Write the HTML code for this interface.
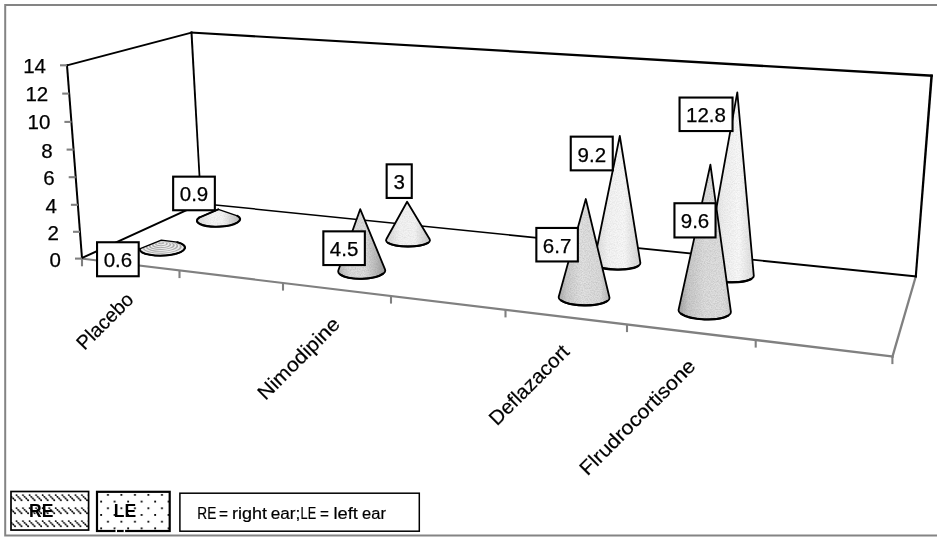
<!DOCTYPE html>
<html lang="en"><head><meta charset="utf-8"><title>RE / LE chart</title>
<style>
html,body{margin:0;padding:0;background:#fff;}
body{width:937px;height:537px;overflow:hidden;}
svg{display:block;filter:grayscale(1);}
text{font-family:"Liberation Sans",sans-serif;fill:#000;}
.v{font-size:20.5px;stroke:#000;stroke-width:0.25px;}
.c{font-size:20px;stroke:#000;stroke-width:0.2px;}
.b{font-size:17.5px;font-weight:bold;}
.n{font-size:16px;stroke:#000;stroke-width:0.2px;}
.box{fill:#fff;stroke:#000;stroke-width:2.1;}
.bk{fill:none;stroke:#000;stroke-width:2;stroke-linejoin:miter;}
.gr{fill:none;stroke:#808080;stroke-width:2.1;}
</style></head><body>
<svg width="937" height="537" viewBox="0 0 937 537">
<defs>
<linearGradient id="g_re96" x1="0" y1="0" x2="1" y2="0"><stop offset="0" stop-color="#a2a2a2"/><stop offset="0.18" stop-color="#c9c9c9"/><stop offset="0.5" stop-color="#dedede"/><stop offset="0.85" stop-color="#e0e0e0"/><stop offset="1" stop-color="#cfcfcf"/></linearGradient>
<linearGradient id="g_re67" x1="0" y1="0" x2="1" y2="0"><stop offset="0" stop-color="#adadad"/><stop offset="0.16" stop-color="#cdcdcd"/><stop offset="0.45" stop-color="#e2e2e2"/><stop offset="0.82" stop-color="#dcdcdc"/><stop offset="1" stop-color="#b8b8b8"/></linearGradient>
<linearGradient id="g_re45" x1="0" y1="0" x2="1" y2="0"><stop offset="0" stop-color="#b8b8b8"/><stop offset="0.25" stop-color="#dcdcdc"/><stop offset="0.55" stop-color="#dedede"/><stop offset="0.8" stop-color="#bcbcbc"/><stop offset="1" stop-color="#9a9a9a"/></linearGradient>
<linearGradient id="g_re06" x1="0" y1="0" x2="1" y2="0"><stop offset="0" stop-color="#c4c4c4"/><stop offset="1" stop-color="#d4d4d4"/></linearGradient>
<linearGradient id="g_le09" x1="0" y1="0" x2="1" y2="0"><stop offset="0" stop-color="#dcdcdc"/><stop offset="0.35" stop-color="#f6f6f6"/><stop offset="0.6" stop-color="#f4f4f4"/><stop offset="1" stop-color="#b8b8b8"/></linearGradient>
<linearGradient id="g_le3" x1="0" y1="0" x2="1" y2="0"><stop offset="0" stop-color="#d6d6d6"/><stop offset="0.3" stop-color="#f2f2f2"/><stop offset="0.65" stop-color="#f4f4f4"/><stop offset="1" stop-color="#c6c6c6"/></linearGradient>
<linearGradient id="g_le92" x1="0" y1="0" x2="1" y2="0"><stop offset="0" stop-color="#d8d8d8"/><stop offset="0.3" stop-color="#f3f3f3"/><stop offset="0.65" stop-color="#f8f8f8"/><stop offset="1" stop-color="#d4d4d4"/></linearGradient>
<linearGradient id="g_le128" x1="0" y1="0" x2="1" y2="0"><stop offset="0" stop-color="#cfcfcf"/><stop offset="0.4" stop-color="#f0f0f0"/><stop offset="0.7" stop-color="#f9f9f9"/><stop offset="1" stop-color="#dcdcdc"/></linearGradient>
<filter id="grain" x="0" y="0" width="1" height="1" color-interpolation-filters="sRGB">
<feTurbulence type="fractalNoise" baseFrequency="0.85" numOctaves="2" seed="7" result="n"/>
<feColorMatrix in="n" type="matrix" values="0 0 0 0 0.45  0 0 0 0 0.45  0 0 0 0 0.45  1.6 0 0 0 -0.55" result="g"/>
<feComposite in="g" in2="SourceGraphic" operator="in"/>
</filter>
<pattern id="hatch" x="13" y="494" width="6.55" height="13" patternUnits="userSpaceOnUse"><g fill="#000"><circle cx="3.45" cy="1.10" r="0.95"/><circle cx="5.15" cy="2.83" r="0.95"/><circle cx="6.85" cy="4.56" r="0.95"/><circle cx="8.55" cy="6.29" r="0.95"/><circle cx="-3.10" cy="1.10" r="0.95"/><circle cx="-1.40" cy="2.83" r="0.95"/><circle cx="0.30" cy="4.56" r="0.95"/><circle cx="2.00" cy="6.29" r="0.95"/></g><path d="M3.45,1.1 L8.55,6.29 M-3.1,1.1 L2,6.29" stroke="#000" stroke-width="0.7" opacity="0.75"/></pattern>
<pattern id="dots" x="-0.25" y="4.85" width="13.5" height="13.4" patternUnits="userSpaceOnUse">
<rect x="6" y="0" width="1.8" height="1.8" fill="#000"/><rect x="-0.7" y="6.7" width="1.8" height="1.8" fill="#000"/><rect x="12.8" y="6.7" width="1.8" height="1.8" fill="#000"/>
</pattern>
</defs>
<rect width="937" height="537" fill="#fff"/>
<!-- outer frame -->
<path d="M938,5 L5.2,5 L5.2,535.6 L938,535.6" fill="none" stroke="#848484" stroke-width="2"/>
<!-- walls -->
<polygon fill="#808080" points="80.83,259.62 893.50,357.78 893.78,355.50 81.08,257.53"/>
<polygon fill="#808080" points="893.28,357.93 917.16,275.65 915.05,275.04 891.07,357.28"/>
<polygon fill="#000" points="66.29,66.62 192.72,33.31 192.21,31.38 65.78,64.69"/>
<polygon fill="#000" points="65.93,64.48 81.08,259.07 83.07,258.92 67.92,64.33"/>
<polygon fill="#000" points="81.51,259.33 202.33,203.99 201.49,202.17 80.67,257.51"/>
<polygon fill="#000" points="190.45,31.66 200.20,204.40 201.90,204.30 192.44,31.55"/>
<polygon fill="#000" points="190.44,33.54 932.78,77.12 932.92,74.62 190.56,31.54"/>
<polygon fill="#000" points="930.45,74.46 914.67,277.36 916.76,277.53 932.94,74.65"/>
<polygon fill="#000" points="200.21,204.15 916.69,277.50 916.90,275.51 200.35,202.71"/>

<path class="gr" d="M60,65.3 L67,65.3"/>
<text class="v" x="46" y="72.5" text-anchor="end">14</text>
<path class="gr" d="M62.2,93.6 L69.2,93.6"/>
<text class="v" x="48.2" y="101" text-anchor="end">12</text>
<path class="gr" d="M64.4,121.9 L71.4,121.9"/>
<text class="v" x="50.4" y="129.4" text-anchor="end">10</text>
<path class="gr" d="M66.6,149.6 L73.6,149.6"/>
<text class="v" x="52.6" y="157.7" text-anchor="end">8</text>
<path class="gr" d="M68.7,177.2 L75.7,177.2"/>
<text class="v" x="54.7" y="185.3" text-anchor="end">6</text>
<path class="gr" d="M70.9,204.8 L77.9,204.8"/>
<text class="v" x="56.9" y="212.8" text-anchor="end">4</text>
<path class="gr" d="M73,231.8 L80,231.8"/>
<text class="v" x="59" y="239.8" text-anchor="end">2</text>
<path class="gr" d="M75,258.6 L82,258.6"/>
<text class="v" x="61" y="266.5" text-anchor="end">0</text>
<path class="gr" d="M82,258.7 L82,266.3"/>
<path class="gr" d="M179.5,270.5 L179.5,278.1"/>
<path class="gr" d="M283,283 L283,290.6"/>
<path class="gr" d="M391,296 L391,303.6"/>
<path class="gr" d="M505.5,309.8 L505.5,317.4"/>
<path class="gr" d="M627,324.5 L627,332.1"/>
<path class="gr" d="M755.7,340 L755.7,347.6"/>
<path class="gr" d="M892.4,356.5 L892.4,364.1"/>
<path d="M218.3,209.3 L237.4,215.9 A21.6,6.8 -2.3 1 1 199.1,217.6 Z" fill="url(#g_le09)" stroke="none"/>
<path d="M218.3,209.3 L237.4,215.9 A21.6,6.8 -2.3 1 1 199.1,217.6 Z" fill="#fff" filter="url(#grain)" opacity="0.17"/>
<path d="M218.3,209.3 L237.4,215.9 A21.6,6.8 -2.3 1 1 199.1,217.6 Z" fill="none" stroke="#000" stroke-width="1.3" stroke-linejoin="round"/>
<path d="M237.4,215.9 A21.6,6.8 -2.3 1 1 199.1,217.6" fill="none" stroke="#000" stroke-width="2.1" stroke-linecap="round"/>
<path d="M218.3,209.3 L199.1,217.6" fill="none" stroke="#000" stroke-width="1.8" stroke-linecap="round"/>
<rect class="box" x="173.15" y="176.65" width="41.70" height="33.60"/>
<text class="v" x="194" y="201.4" text-anchor="middle">0.9</text>
<path d="M161.3,240.1 L177.3,242.2 A22.7,7.4 -2 1 1 139.6,248.9 Z" fill="url(#g_re06)" stroke="none"/>
<clipPath id="c06"><path d="M161.3,240.1 L177.3,242.2 A22.7,7.4 -2 1 1 139.6,248.9 Z"/></clipPath><g clip-path="url(#c06)">
<ellipse cx="162.2" cy="247.8" rx="21.1" ry="6.9" transform="rotate(-2 162.3 248.2)" fill="#ececec"/>
<ellipse cx="162.2" cy="247.4" rx="19.5" ry="6.3" transform="rotate(-2 162.3 248.2)" fill="#ababab"/>
<ellipse cx="162.1" cy="247" rx="17.8" ry="5.8" transform="rotate(-2 162.3 248.2)" fill="#ececec"/>
<ellipse cx="162" cy="246.5" rx="16.2" ry="5.3" transform="rotate(-2 162.3 248.2)" fill="#ababab"/>
<ellipse cx="161.9" cy="246.1" rx="14.6" ry="4.8" transform="rotate(-2 162.3 248.2)" fill="#ececec"/>
<ellipse cx="161.9" cy="245.7" rx="13" ry="4.2" transform="rotate(-2 162.3 248.2)" fill="#ababab"/>
<ellipse cx="161.8" cy="245.3" rx="11.3" ry="3.7" transform="rotate(-2 162.3 248.2)" fill="#ececec"/>
<ellipse cx="161.7" cy="244.9" rx="9.7" ry="3.2" transform="rotate(-2 162.3 248.2)" fill="#ababab"/>
<ellipse cx="161.7" cy="244.5" rx="8.1" ry="2.6" transform="rotate(-2 162.3 248.2)" fill="#ececec"/>
<ellipse cx="161.6" cy="244" rx="6.5" ry="2.1" transform="rotate(-2 162.3 248.2)" fill="#ababab"/>
<ellipse cx="161.5" cy="243.6" rx="4.9" ry="1.6" transform="rotate(-2 162.3 248.2)" fill="#ececec"/>
<ellipse cx="161.4" cy="243.2" rx="3.2" ry="1.1" transform="rotate(-2 162.3 248.2)" fill="#ababab"/>
<ellipse cx="161.4" cy="242.8" rx="1.6" ry="0.5" transform="rotate(-2 162.3 248.2)" fill="#ececec"/>
</g>
<path d="M161.3,240.1 L177.3,242.2 A22.7,7.4 -2 1 1 139.6,248.9 Z" fill="none" stroke="#000" stroke-width="1.3" stroke-linejoin="round"/>
<path d="M177.3,242.2 A22.7,7.4 -2 1 1 139.6,248.9" fill="none" stroke="#000" stroke-width="2.1" stroke-linecap="round"/>
<rect class="box" x="97.05" y="242.25" width="41.65" height="34.00"/>
<text class="v" x="117.9" y="267.2" text-anchor="middle">0.6</text>
<path d="M407.1,201.7 L429.7,239.3 A22,6.2 0 1 1 386.3,239.3 Z" fill="url(#g_le3)" stroke="none"/>
<path d="M407.1,201.7 L429.7,239.3 A22,6.2 0 1 1 386.3,239.3 Z" fill="#fff" filter="url(#grain)" opacity="0.17"/>
<path d="M407.1,201.7 L429.7,239.3 A22,6.2 0 1 1 386.3,239.3 Z" fill="none" stroke="#000" stroke-width="1.8" stroke-linejoin="round"/>
<path d="M427.9,242.9 A22,6.2 0 0 1 388.1,242.9" fill="none" stroke="#000" stroke-width="2.1" stroke-linecap="round"/>
<rect class="box" x="386.65" y="164.35" width="25.10" height="33.60"/>
<text class="v" x="399.2" y="189.2" text-anchor="middle">3</text>
<path d="M360.2,209.2 L385,269.3 A23.5,8 -1.2 1 1 338.4,270.3 Z" fill="url(#g_re45)" stroke="none"/>
<path d="M360.2,209.2 L385,269.3 A23.5,8 -1.2 1 1 338.4,270.3 Z" fill="#fff" filter="url(#grain)" opacity="0.3"/>
<path d="M360.2,209.2 L385,269.3 A23.5,8 -1.2 1 1 338.4,270.3 Z" fill="none" stroke="#000" stroke-width="1.8" stroke-linejoin="round"/>
<path d="M383.1,273.7 A23.5,8 -1.2 0 1 340.5,274.6" fill="none" stroke="#000" stroke-width="2.1" stroke-linecap="round"/>
<rect class="box" x="323.35" y="231.35" width="41.50" height="33.70"/>
<text class="v" x="344.1" y="256.2" text-anchor="middle">4.5</text>
<path d="M619.8,136 L640.4,263 A23.2,6.8 1 1 1 594,262.2 Z" fill="url(#g_le92)" stroke="none"/>
<path d="M619.8,136 L640.4,263 A23.2,6.8 1 1 1 594,262.2 Z" fill="#fff" filter="url(#grain)" opacity="0.17"/>
<path d="M619.8,136 L640.4,263 A23.2,6.8 1 1 1 594,262.2 Z" fill="none" stroke="#000" stroke-width="1.8" stroke-linejoin="round"/>
<path d="M638.2,266.2 A23.2,6.8 1 0 1 596.1,265.5" fill="none" stroke="#000" stroke-width="2.1" stroke-linecap="round"/>
<rect class="box" x="570.75" y="136.65" width="42.00" height="33.70"/>
<text class="v" x="591.8" y="161.5" text-anchor="middle">9.2</text>
<path d="M585.8,199 L609.4,297.2 A25.4,7.9 0.9 1 1 558.8,296.4 Z" fill="url(#g_re67)" stroke="none"/>
<path d="M585.8,199 L609.4,297.2 A25.4,7.9 0.9 1 1 558.8,296.4 Z" fill="#fff" filter="url(#grain)" opacity="0.3"/>
<path d="M585.8,199 L609.4,297.2 A25.4,7.9 0.9 1 1 558.8,296.4 Z" fill="none" stroke="#000" stroke-width="1.8" stroke-linejoin="round"/>
<path d="M607.1,301.1 A25.4,7.9 0.9 0 1 561,300.4" fill="none" stroke="#000" stroke-width="2.1" stroke-linecap="round"/>
<rect class="box" x="536.35" y="227.95" width="41.50" height="33.50"/>
<text class="v" x="557.1" y="252.7" text-anchor="middle">6.7</text>
<path d="M737.3,92.3 L753.8,275.9 A24.7,6.8 1.5 1 1 704.4,274.6 Z" fill="url(#g_le128)" stroke="none"/>
<path d="M737.3,92.3 L753.8,275.9 A24.7,6.8 1.5 1 1 704.4,274.6 Z" fill="#fff" filter="url(#grain)" opacity="0.17"/>
<path d="M737.3,92.3 L753.8,275.9 A24.7,6.8 1.5 1 1 704.4,274.6 Z" fill="none" stroke="#000" stroke-width="1.8" stroke-linejoin="round"/>
<path d="M751.4,279 A24.7,6.8 1.5 0 1 706.6,277.8" fill="none" stroke="#000" stroke-width="2.1" stroke-linecap="round"/>
<rect class="box" x="679.55" y="97.55" width="53.00" height="33.50"/>
<text class="v" x="706" y="122.3" text-anchor="middle">12.8</text>
<path d="M710.4,164.6 L730.9,311.8 A26.2,8.3 2.4 1 1 678.6,309.6 Z" fill="url(#g_re96)" stroke="none"/>
<path d="M710.4,164.6 L730.9,311.8 A26.2,8.3 2.4 1 1 678.6,309.6 Z" fill="#fff" filter="url(#grain)" opacity="0.3"/>
<path d="M710.4,164.6 L730.9,311.8 A26.2,8.3 2.4 1 1 678.6,309.6 Z" fill="none" stroke="#000" stroke-width="1.8" stroke-linejoin="round"/>
<path d="M728.3,315.7 A26.2,8.3 2.4 0 1 680.9,313.7" fill="none" stroke="#000" stroke-width="2.1" stroke-linecap="round"/>
<rect class="box" x="674.45" y="203.25" width="41.10" height="34.20"/>
<text class="v" x="695" y="228.3" text-anchor="middle">9.6</text>
<text class="c" transform="translate(84.5,351) rotate(-45)" textLength="71" lengthAdjust="spacingAndGlyphs">Placebo</text>
<text class="c" transform="translate(265.5,401) rotate(-45)" textLength="107" lengthAdjust="spacingAndGlyphs">Nimodipine</text>
<text class="c" transform="translate(497,426.5) rotate(-45)" textLength="104" lengthAdjust="spacingAndGlyphs">Deflazacort</text>
<text class="c" transform="translate(587.5,476.5) rotate(-45)" textLength="154.5" lengthAdjust="spacingAndGlyphs">Flrudrocortisone</text>
<rect x="11" y="491.5" width="77.6" height="38.55" fill="#fff"/>
<rect x="11" y="491.5" width="77.6" height="38.55" fill="url(#hatch)" stroke="#000" stroke-width="1.7"/>
<text class="b" x="41.2" y="516.8" text-anchor="middle">RE</text>
<rect x="97" y="491.8" width="72.7" height="39.2" fill="#fff"/>
<rect x="97" y="491.8" width="72.7" height="39.2" fill="url(#dots)" stroke="#000" stroke-width="2.2"/>
<text class="b" x="125" y="516.8" text-anchor="middle">LE</text>
<rect x="115.5" y="528.6" width="1.5" height="4" fill="#fff"/><rect x="123.7" y="528.6" width="1.4" height="4" fill="#fff"/>
<rect x="179.9" y="493.2" width="239.4" height="38" fill="#fff" stroke="#000" stroke-width="1.5"/>
<text class="n" y="518.9"><tspan x="197.3" textLength="19.0" lengthAdjust="spacingAndGlyphs">RE</tspan> <tspan x="219.0" textLength="9.0" lengthAdjust="spacingAndGlyphs">=</tspan> <tspan x="231.9" textLength="35.0" lengthAdjust="spacingAndGlyphs">right</tspan> <tspan x="270.7" textLength="29.6" lengthAdjust="spacingAndGlyphs">ear;</tspan><tspan x="300.6" textLength="15.5" lengthAdjust="spacingAndGlyphs">LE</tspan> <tspan x="320.1" textLength="8.9" lengthAdjust="spacingAndGlyphs">=</tspan> <tspan x="333.4" textLength="24.4" lengthAdjust="spacingAndGlyphs">left</tspan> <tspan x="362.1" textLength="23.8" lengthAdjust="spacingAndGlyphs">ear</tspan></text>

</svg></body></html>
